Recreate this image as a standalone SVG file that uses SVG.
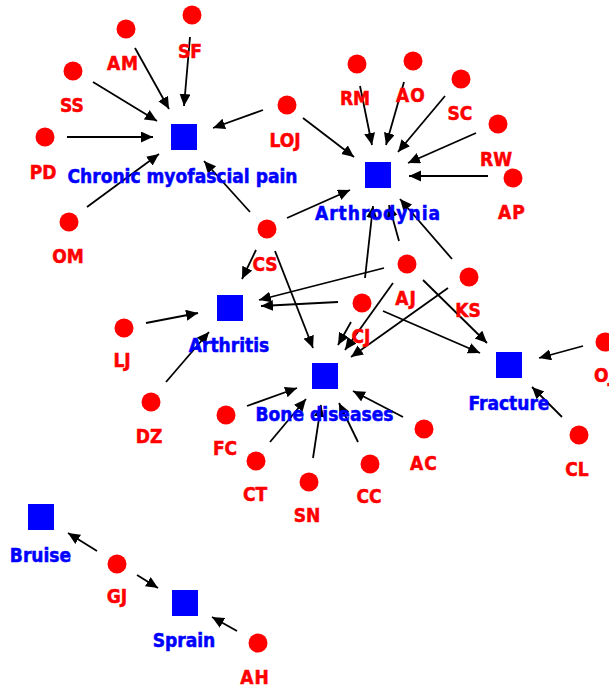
<svg xmlns="http://www.w3.org/2000/svg" width="609" height="688" viewBox="0 0 609 688">
  <defs>
    <marker id="arrow" markerUnits="userSpaceOnUse" markerWidth="13" markerHeight="12" refX="12" refY="5.5" orient="auto">
      <path d="M0,0 L12,5.5 L0,11 z" fill="#000"/>
    </marker>
  </defs>
  <style>
    .edge { stroke: #000; stroke-width: 1.8; fill: none; marker-end: url(#arrow); }
    .disease { fill: #0000ff; }
    .herb { fill: #ff0000; }
    .lbl { font-family: "DejaVu Sans Condensed", "DejaVu Sans", Verdana, sans-serif; font-stretch: condensed; font-weight: bold; font-size: 19px; text-anchor: middle; stroke-width: 0.5px; }
    .dlbl { fill: #0000ff; stroke: #0000ff; }
    .hlbl { fill: #ff0000; stroke: #ff0000; }
    .wide { letter-spacing: 1px; }
  </style>
  <rect width="609" height="688" fill="#fff"/>

  <!-- connectors -->
  <g id="connectors">
    <!-- into Chronic myofascial pain -->
    <line class="edge" x1="135" y1="48" x2="169" y2="109"/>
    <line class="edge" x1="190" y1="37" x2="184" y2="106"/>
    <line class="edge" x1="93" y1="82" x2="157" y2="121"/>
    <line class="edge" x1="67" y1="137" x2="153" y2="137"/>
    <line class="edge" x1="87" y1="207" x2="159" y2="154"/>
    <line class="edge" x1="263" y1="110" x2="213" y2="128"/>
    <line class="edge" x1="250" y1="212" x2="204" y2="161"/>
    <!-- into Arthrodynia -->
    <line class="edge" x1="303" y1="118" x2="354" y2="157"/>
    <line class="edge" x1="360" y1="86" x2="372" y2="145"/>
    <line class="edge" x1="404" y1="82" x2="386" y2="145"/>
    <line class="edge" x1="445" y1="96" x2="398" y2="152"/>
    <line class="edge" x1="476" y1="133" x2="408" y2="163"/>
    <line class="edge" x1="488" y1="176" x2="409" y2="176"/>
    <line class="edge" x1="287" y1="218" x2="350" y2="190"/>
    <line class="edge" x1="365" y1="278" x2="373" y2="206"/>
    <line class="edge" x1="399" y1="241" x2="389" y2="205"/>
    <line class="edge" x1="452" y1="259" x2="400" y2="199"/>
    <!-- into Arthritis -->
    <line class="edge" x1="256" y1="250" x2="242" y2="279"/>
    <line class="edge" x1="384" y1="268" x2="259" y2="300"/>
    <line class="edge" x1="338" y1="302" x2="261" y2="306"/>
    <line class="edge" x1="146" y1="323" x2="198" y2="313"/>
    <line class="edge" x1="166" y1="382" x2="209" y2="332"/>
    <!-- into Bone diseases -->
    <line class="edge" x1="275" y1="251" x2="313" y2="348"/>
    <line class="edge" x1="351" y1="322" x2="338" y2="345"/>
    <line class="edge" x1="393" y1="283" x2="345" y2="350"/>
    <line class="edge" x1="448" y1="288" x2="351" y2="357"/>
    <line class="edge" x1="247" y1="406" x2="297" y2="388"/>
    <line class="edge" x1="270" y1="442" x2="306" y2="399"/>
    <line class="edge" x1="313" y1="458" x2="321" y2="405"/>
    <line class="edge" x1="358" y1="442" x2="339" y2="403"/>
    <line class="edge" x1="403" y1="417" x2="353" y2="391"/>
    <!-- into Fracture -->
    <line class="edge" x1="423" y1="280" x2="487" y2="343"/>
    <line class="edge" x1="383" y1="311" x2="480" y2="353"/>
    <line class="edge" x1="583" y1="346" x2="539" y2="358"/>
    <line class="edge" x1="562" y1="417" x2="532" y2="387"/>
    <!-- into Bruise and Sprain -->
    <line class="edge" x1="97" y1="551" x2="68" y2="533"/>
    <line class="edge" x1="137" y1="575" x2="158" y2="588"/>
    <line class="edge" x1="237" y1="631" x2="212" y2="617"/>
  </g>

  <!-- disease nodes -->
  <g id="chronic-myofascial-pain"><rect class="disease" x="171" y="124" width="26" height="26"/><text class="lbl dlbl" x="182.5" y="183">Chronic myofascial pain</text></g>
  <g id="arthrodynia"><rect class="disease" x="365" y="162" width="26" height="26"/><text class="lbl dlbl wide" x="378" y="220">Arthrodynia</text></g>
  <g id="arthritis"><rect class="disease" x="217" y="295" width="26" height="26"/><text class="lbl dlbl" x="229" y="352">Arthritis</text></g>
  <g id="bone-diseases"><rect class="disease" x="312" y="363" width="26" height="26"/><text class="lbl dlbl" x="324.5" y="421">Bone diseases</text></g>
  <g id="fracture"><rect class="disease" x="496" y="352" width="26" height="26"/><text class="lbl dlbl" x="509" y="410">Fracture</text></g>
  <g id="bruise"><rect class="disease" x="28" y="504" width="26" height="26"/><text class="lbl dlbl" x="40.5" y="562">Bruise</text></g>
  <g id="sprain"><rect class="disease" x="172" y="590" width="26" height="26"/><text class="lbl dlbl" x="184" y="647">Sprain</text></g>

  <!-- herb nodes -->
  <g id="AM"><circle class="herb" cx="126" cy="29" r="9.5"/><text class="lbl hlbl wide" x="123" y="70">AM</text></g>
  <g id="SF"><circle class="herb" cx="192" cy="15" r="9.5"/><text class="lbl hlbl" x="190" y="58">SF</text></g>
  <g id="SS"><circle class="herb" cx="73" cy="71" r="9.5"/><text class="lbl hlbl" x="72" y="112">SS</text></g>
  <g id="PD"><circle class="herb" cx="45" cy="137" r="9.5"/><text class="lbl hlbl" x="43" y="179">PD</text></g>
  <g id="OM"><circle class="herb" cx="69" cy="222" r="9.5"/><text class="lbl hlbl" x="68" y="263">OM</text></g>
  <g id="LOJ"><circle class="herb" cx="287" cy="105" r="9.5"/><text class="lbl hlbl" x="285" y="147">LOJ</text></g>
  <g id="CS"><circle class="herb" cx="267" cy="229" r="9.5"/><text class="lbl hlbl" x="265" y="271">CS</text></g>
  <g id="RM"><circle class="herb" cx="357" cy="64" r="9.5"/><text class="lbl hlbl" x="355" y="105">RM</text></g>
  <g id="AO"><circle class="herb" cx="413" cy="61" r="9.5"/><text class="lbl hlbl wide" x="411" y="102">AO</text></g>
  <g id="SC"><circle class="herb" cx="461" cy="79" r="9.5"/><text class="lbl hlbl" x="460" y="120">SC</text></g>
  <g id="RW"><circle class="herb" cx="498" cy="124" r="9.5"/><text class="lbl hlbl" x="496" y="166">RW</text></g>
  <g id="AP"><circle class="herb" cx="513" cy="178" r="9.5"/><text class="lbl hlbl wide" x="512" y="219">AP</text></g>
  <g id="AJ"><circle class="herb" cx="407" cy="264" r="9.5"/><text class="lbl hlbl wide" x="406" y="305">AJ</text></g>
  <g id="KS"><circle class="herb" cx="469" cy="277" r="9.5"/><text class="lbl hlbl" x="468" y="317">KS</text></g>
  <g id="CJ"><circle class="herb" cx="362" cy="303" r="9.5"/><text class="lbl hlbl" x="361" y="343">CJ</text></g>
  <g id="LJ"><circle class="herb" cx="124" cy="328" r="9.5"/><text class="lbl hlbl" x="122" y="367">LJ</text></g>
  <g id="DZ"><circle class="herb" cx="151" cy="402" r="9.5"/><text class="lbl hlbl" x="149" y="443">DZ</text></g>
  <g id="FC"><circle class="herb" cx="226" cy="415" r="9.5"/><text class="lbl hlbl" x="225" y="455">FC</text></g>
  <g id="CT"><circle class="herb" cx="256" cy="461" r="9.5"/><text class="lbl hlbl" x="255" y="501">CT</text></g>
  <g id="SN"><circle class="herb" cx="309" cy="482" r="9.5"/><text class="lbl hlbl" x="307" y="522">SN</text></g>
  <g id="CC"><circle class="herb" cx="370" cy="464" r="9.5"/><text class="lbl hlbl" x="369" y="503">CC</text></g>
  <g id="AC"><circle class="herb" cx="424" cy="429" r="9.5"/><text class="lbl hlbl wide" x="424" y="470">AC</text></g>
  <g id="OJ"><circle class="herb" cx="605" cy="342" r="9.5"/><text class="lbl hlbl" x="594" y="382" style="text-anchor:start">OJ</text></g>
  <g id="CL"><circle class="herb" cx="579" cy="435" r="9.5"/><text class="lbl hlbl" x="577" y="476">CL</text></g>
  <g id="GJ"><circle class="herb" cx="117" cy="564" r="9.5"/><text class="lbl hlbl" x="117" y="603">GJ</text></g>
  <g id="AH"><circle class="herb" cx="258" cy="643" r="9.5"/><text class="lbl hlbl wide" x="255" y="684">AH</text></g>
</svg>
